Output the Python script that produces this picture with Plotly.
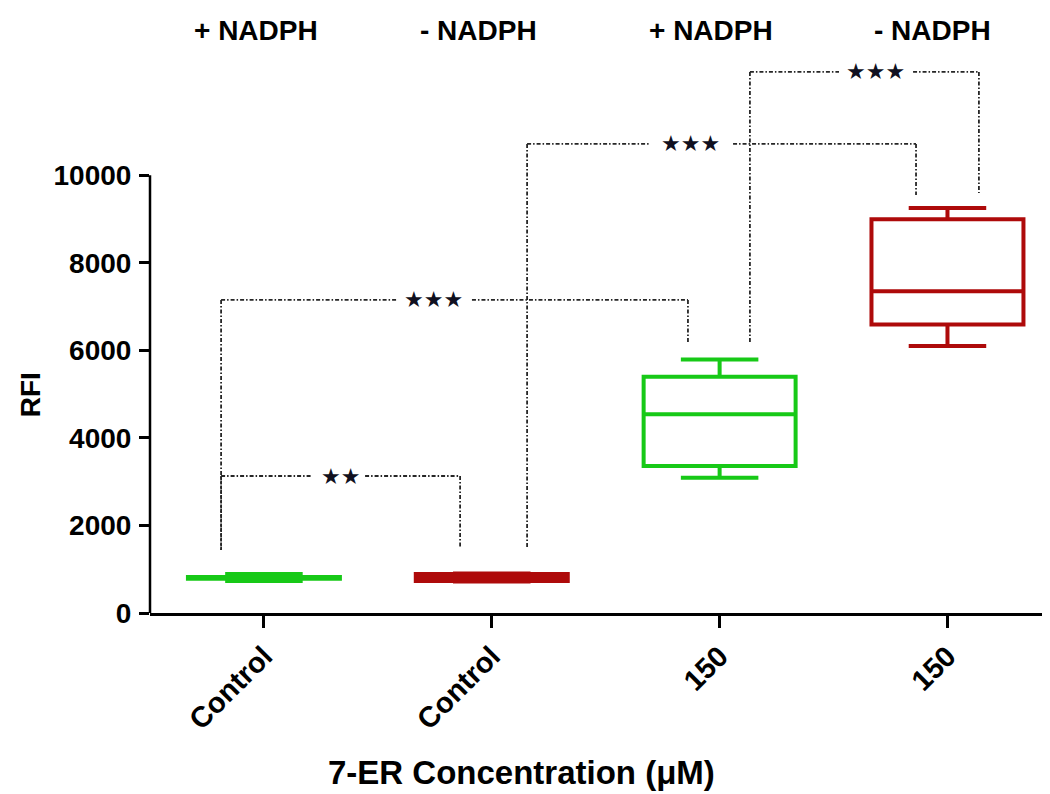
import plotly.graph_objects as go

# ---- data ----
group_labels = ["+ NADPH", "- NADPH", "+ NADPH", "- NADPH"]
tick_labels = ["Control", "Control", "150", "150"]
positions = [0, 1, 2, 3]
q1 = [780, 730, 3356, 6591]
median = [800, 810, 4543, 7352]
q3 = [820, 890, 5395, 8995]
lowerfence = [730, 720, 3089, 6103]
upperfence = [890, 900, 5792, 9253]
box_colors = ["#17C917", "#AE0A0A", "#17C917", "#AE0A0A"]
y_ticks = [0, 2000, 4000, 6000, 8000, 10000]

# significance brackets (annotation geometry, in axis units)
brackets = [
    dict(xl=-0.188, xr=0.861, y=3130, yl=1440, yr=1508, g0=0.211, g1=0.444, xs=0.334, label="★★"),
    dict(xl=-0.188, xr=1.861, y=7152, yl=1440, yr=6192, g0=0.580, g1=0.913, xs=0.746, label="★★★"),
    dict(xl=1.155, xr=2.862, y=10717, yl=1508, yr=9551, g0=1.690, g1=2.059, xs=1.874, label="★★★"),
    dict(xl=2.133, xr=3.138, y=12362, yl=6170, yr=9597, g0=2.524, g1=2.849, xs=2.686, label="★★★"),
]

fig = go.Figure()
for color in ["#17C917", "#AE0A0A"]:
    idx = [i for i, c in enumerate(box_colors) if c == color]
    fig.add_trace(go.Box(
        x=[positions[i] for i in idx],
        q1=[q1[i] for i in idx],
        median=[median[i] for i in idx],
        q3=[q3[i] for i in idx],
        lowerfence=[lowerfence[i] for i in idx],
        upperfence=[upperfence[i] for i in idx],
        width=0.667,
        whiskerwidth=0.51,
        line=dict(color=color, width=4),
        fillcolor="white",
        boxpoints=False,
        showlegend=False,
        hoverinfo="skip",
    ))

dash = "4px,2px,1.5px,2px"
lc = "#262626"
shapes = []
annotations = []
for b in brackets:
    segs = [
        (b["xl"], b["y"], b["g0"], b["y"]),
        (b["g1"], b["y"], b["xr"], b["y"]),
        (b["xl"], b["y"], b["xl"], b["yl"]),
        (b["xr"], b["y"], b["xr"], b["yr"]),
    ]
    for x0, y0, x1, y1 in segs:
        shapes.append(dict(type="line", xref="x", yref="y", x0=x0, y0=y0, x1=x1, y1=y1,
                           line=dict(color=lc, width=1.8, dash=dash)))
    annotations.append(dict(x=b["xs"], y=b["y"], xref="x", yref="y", text=b["label"],
                            showarrow=False, xanchor="center", yanchor="middle",
                            font=dict(family="DejaVu Sans", size=22, color="#101020")))

# y axis line from 0 to 10000
shapes.append(dict(type="line", xref="paper", yref="y", x0=0, x1=0, y0=0, y1=10000,
                   line=dict(color="black", width=2.5)))

# group labels above
label_x = [-0.035, 0.943, 1.96, 2.934]
for gx, gl in zip(label_x, group_labels):
    annotations.append(dict(x=gx, y=1.0246, xref="x", yref="paper", text=gl, showarrow=False,
                            xanchor="center", yanchor="middle",
                            font=dict(family="Liberation Sans", size=28, color="black", weight="bold")))

# axis titles
annotations.append(dict(x=-0.133, y=4980, xref="paper", yref="y", text="RFI", textangle=-90,
                        showarrow=False, xanchor="center", yanchor="middle",
                        font=dict(family="Liberation Sans", size=28, color="black", weight="bold")))
annotations.append(dict(x=1.13, y=-0.281, xref="x", yref="paper", text="7-ER Concentration (μM)",
                        showarrow=False, xanchor="center", yanchor="middle",
                        font=dict(family="Liberation Sans", size=33, color="black", weight="bold")))

fig.update_layout(
    width=1042, height=786,
    margin=dict(l=142, r=0, t=36, b=181),
    plot_bgcolor="white", paper_bgcolor="white",
    boxmode="overlay",
    shapes=shapes,
    annotations=annotations,
    xaxis=dict(range=[-0.5, 3.45], tickvals=positions, ticktext=tick_labels, tickangle=-45,
               showline=True, linecolor="black", linewidth=2.5, ticks="outside", ticklen=12,
               tickwidth=2.5, tickcolor="black", showgrid=False, zeroline=False,
               tickfont=dict(family="Liberation Sans", size=29, color="black", weight="bold")),
    yaxis=dict(range=[0, 13000], tickvals=y_ticks, ticktext=[str(v) for v in y_ticks],
               showline=False, ticks="outside", ticklen=10, tickwidth=2.5, tickcolor="black",
               showgrid=False, zeroline=False, ticklabelstandoff=2,
               tickfont=dict(family="Liberation Sans", size=28, color="black", weight="bold")),
)

fig.write_html("out.html")
